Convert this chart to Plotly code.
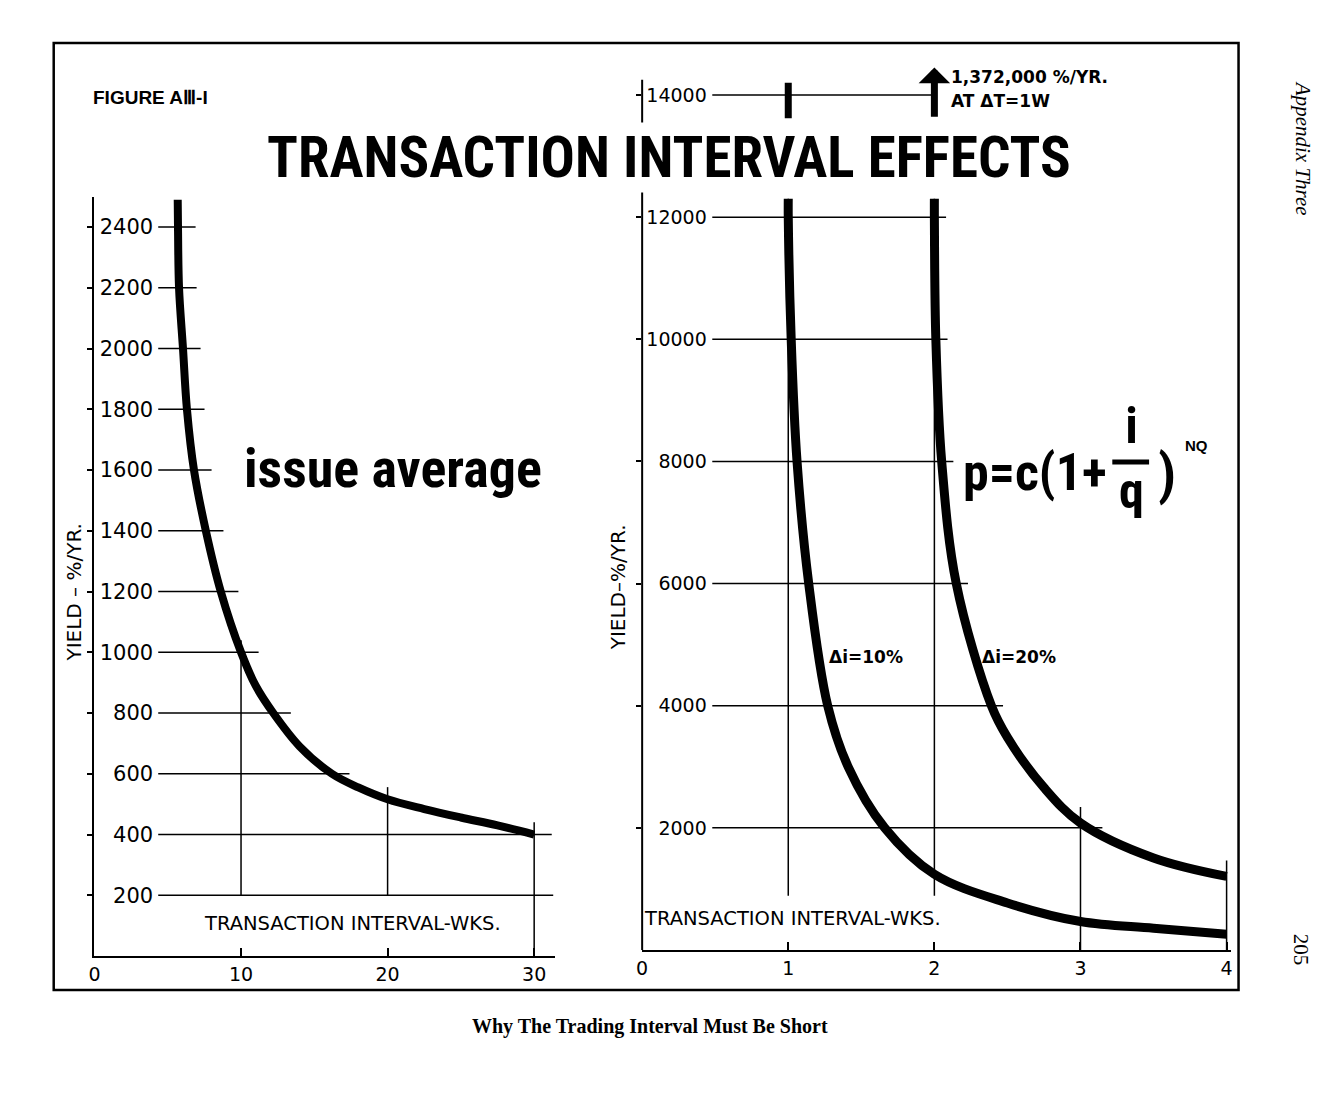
import numpy as np
import plotly.graph_objects as go

W, H = 1330, 1120

# ---------------- data ----------------
left_weeks = [5.68, 5.70, 5.77, 6.04, 6.31, 6.79, 7.60, 8.62, 10.0, 11.0, 12.2, 14.0, 16.2, 18.0, 20.0, 22.5, 25.0, 27.5, 30.0]
left_yield = [2490, 2400, 2200, 2000, 1800, 1600, 1400, 1200, 1000, 890, 800, 690, 600, 555, 516, 484, 456, 430, 400]

r10_weeks = [1.0, 1.0, 1.02, 1.06, 1.14, 1.27, 1.41, 1.66, 2.0, 2.5, 3.0, 3.5, 4.0]
r10_yield = [12300, 12000, 10000, 8000, 6000, 4000, 3000, 2000, 1240, 770, 466, 356, 258]

r20_weeks = [2.0, 2.0, 2.01, 2.05, 2.15, 2.39, 2.5, 2.75, 3.0, 3.5, 4.0]
r20_yield = [12300, 12000, 10000, 8000, 6000, 4000, 3480, 2660, 2080, 1507, 1205]

left_xticks = [0, 10, 20, 30]
left_yticks = [200, 400, 600, 800, 1000, 1200, 1400, 1600, 1800, 2000, 2200, 2400]
right_xticks = [0, 1, 2, 3, 4]
right_yticks = [2000, 4000, 6000, 8000, 10000, 12000, 14000]

labels = ["Δi=10%", "Δi=20%"]
peak_note = ["1,372,000 %/YR.", "AT ΔT=1W"]

# ---------------- helpers ----------------
def px(p):
    return p / W

def py(p):
    return 1 - p / H

NARROW = "Liberation Sans Narrow, Roboto Condensed, DejaVu Sans Condensed, Liberation Sans, sans-serif"
GEO = "DejaVu Sans, Verdana, sans-serif"
SERIF = "Liberation Serif, Times New Roman, serif"

fig = go.Figure()

curve_style = dict(color="black", shape="spline", smoothing=1.0)
fig.add_trace(go.Scatter(x=left_weeks, y=left_yield, mode="lines", xaxis="x", yaxis="y",
                         line=dict(width=8, **curve_style), hoverinfo="skip", cliponaxis=False))
fig.add_trace(go.Scatter(x=r10_weeks, y=r10_yield, mode="lines", xaxis="x2", yaxis="y2",
                         line=dict(width=9, **curve_style), hoverinfo="skip", cliponaxis=False))
fig.add_trace(go.Scatter(x=r20_weeks, y=r20_yield, mode="lines", xaxis="x2", yaxis="y2",
                         line=dict(width=9, **curve_style), hoverinfo="skip", cliponaxis=False))
# empty traces so the label-only overlay axes are drawn
fig.add_trace(go.Scatter(x=[None], y=[None], xaxis="x", yaxis="y3", hoverinfo="skip", showlegend=False))
fig.add_trace(go.Scatter(x=[None], y=[None], xaxis="x2", yaxis="y4", hoverinfo="skip", showlegend=False))

shapes = []
grid = dict(color="black", width=1.5)

# left grid: horizontal segments ending just past the curve
for yv in left_yticks:
    if yv < min(left_yield):
        x1 = 31.3
    else:
        x1 = min(float(np.interp(yv, left_yield[::-1], left_weeks[::-1])) + 1.2, 31.3)
    shapes.append(dict(type="line", xref="x", yref="y", x0=4.35, x1=x1, y0=yv, y1=yv,
                       line=grid, layer="below"))
for xv in left_xticks[1:]:
    top = float(np.interp(xv, left_weeks, left_yield)) + 40
    bottom = -15 if xv == left_xticks[-1] else left_yticks[0]
    shapes.append(dict(type="line", xref="x", yref="y", x0=xv, x1=xv, y0=bottom, y1=top,
                       line=grid, layer="below"))

# right grid
for yv in right_yticks:
    if yv > max(r20_yield):
        x1 = 2.0
    else:
        x1 = float(np.interp(yv, r20_yield[::-1], r20_weeks[::-1])) + 0.08
    shapes.append(dict(type="line", xref="x2", yref="y2", x0=0.48, x1=x1, y0=yv, y1=yv,
                       line=grid, layer="below"))
for xv in right_xticks[1:]:
    if xv in (1, 2):
        y0, y1 = 890, max(r10_yield)
    else:
        y0 = 0
        y1 = float(np.interp(xv, r20_weeks, r20_yield)) + 260
    shapes.append(dict(type="line", xref="x2", yref="y2", x0=xv, x1=xv, y0=y0, y1=y1,
                       line=grid, layer="below"))

# right y axis line (drawn by hand so it stops at the top tick)
shapes.append(dict(type="line", xref="x2 domain", yref="y2", x0=0, x1=0, y0=0, y1=14250,
                   line=dict(color="black", width=2)))
# thick marker at 1 week above the break
shapes.append(dict(type="line", xref="x2", yref="y2", x0=1, x1=1, y0=13620, y1=14200,
                   line=dict(color="black", width=7)))

# fraction bar
shapes.append(dict(type="line", xref="paper", yref="paper", x0=px(1113), x1=px(1150),
                   y0=py(462), y1=py(462), line=dict(color="black", width=5)))

# outer frame
shapes.append(dict(type="rect", xref="paper", yref="paper", x0=px(48), x1=px(1240),
                   y0=py(990), y1=py(43), line=dict(color="black", width=2.5)))

ann = []
def A(text, x, y, size, family=GEO, weight="normal", xanchor="center", yanchor="middle",
      xref="paper", yref="paper", angle=0, bg=None, style="normal"):
    d = dict(text=text, x=x, y=y, xref=xref, yref=yref, showarrow=False,
             xanchor=xanchor, yanchor=yanchor, textangle=angle,
             font=dict(family=family, size=size, color="black", weight=weight, style=style))
    if bg:
        d["bgcolor"] = bg
    ann.append(d)

A("FIGURE AⅢ-I", px(86), py(97), 19, family="Liberation Sans, Arial, sans-serif", weight="bold", xanchor="left")
A("TRANSACTION INTERVAL EFFECTS", px(667), py(158), 57, family=NARROW, weight="bold", bg="white")
A("issue average", px(389), py(468), 54, family=NARROW, weight="bold")

# formula
A("p=c(1+", px(961), py(473), 52, family=NARROW, weight="bold", xanchor="left")
A("i<br>q", px(1132), py(458), 50, family=NARROW, weight="bold")
A(")", px(1168), py(474), 56, family=NARROW, weight="bold")
A("NQ", px(1198), py(446), 15, family="Liberation Sans, Arial, sans-serif", weight="bold")

# series labels
A(labels[0], 1.53, 4800, 17, family=GEO, weight="bold", xref="x2", yref="y2")
A(labels[1], 2.58, 4800, 17, family=GEO, weight="bold", xref="x2", yref="y2")

# off-scale note
A(peak_note[0], 2.10, 14290, 17, family=GEO, weight="bold", xanchor="left", xref="x2", yref="y2")
A(peak_note[1], 2.10, 13900, 17, family=GEO, weight="bold", xanchor="left", xref="x2", yref="y2")

# axis titles
A("TRANSACTION INTERVAL-WKS.", 17.6, 108, 19.5, xref="x", yref="y")
A("TRANSACTION INTERVAL-WKS.", 1.03, 524, 19.5, xref="x2", yref="y2")
A("YIELD – %/YR.", px(68), py(592), 20, angle=-90)
A("YIELD–%/YR.", px(616), py(587), 20, angle=-90)

# page furniture
A("Why The Trading Interval Must Be Short", px(648), py(1026), 20, family=SERIF, weight="bold")
A("Appendix Three", px(1305), py(148), 21, family=SERIF, style="italic", angle=90)
A("205", px(1303), py(950), 21, family=SERIF, angle=90)

# arrow for the off-scale value
ann.append(dict(x=2, y=14450, xref="x2", yref="y2", ax=2, ay=13620, axref="x2", ayref="y2",
                text="", showarrow=True, arrowhead=1, arrowwidth=7, arrowsize=0.75,
                arrowcolor="black", standoff=0))

ltickfont = dict(family=GEO, size=21, color="black")
rtickfont = dict(family=GEO, size=19, color="black")
xtickfont = dict(family=GEO, size=19, color="black")

fig.update_layout(
    width=W, height=H, margin=dict(l=0, r=0, t=0, b=0),
    paper_bgcolor="white", plot_bgcolor="white", showlegend=False,
    xaxis=dict(domain=[px(89), px(552)], range=[0, 31.4], anchor="y",
               showline=True, linecolor="black", linewidth=2, ticks="inside", ticklen=8,
               tickwidth=1.5, tickcolor="black", tickvals=left_xticks, tickfont=xtickfont,
               showgrid=False, zeroline=False),
    yaxis=dict(domain=[py(956), py(196.75)], range=[0, 2500], anchor="x",
               showline=True, linecolor="black", linewidth=2, ticks="outside", ticklen=5,
               tickwidth=1.5, tickcolor="black", tickvals=left_yticks, showticklabels=False,
               showgrid=False, zeroline=False),
    yaxis3=dict(overlaying="y", range=[0, 2500], anchor="free", position=px(148), side="left",
                showline=False, ticks="", tickvals=left_yticks,
                ticktext=[str(v) for v in left_yticks], tickfont=ltickfont,
                showgrid=False, zeroline=False),
    xaxis2=dict(domain=[px(640), px(1232.4)], range=[0, 4.03], anchor="y2",
                showline=True, linecolor="black", linewidth=2, ticks="inside", ticklen=8,
                tickwidth=1.5, tickcolor="black", tickvals=right_xticks, tickfont=xtickfont,
                showgrid=False, zeroline=False),
    yaxis2=dict(domain=[py(950), py(55.3)], range=[0, 14650], anchor="x2",
                showline=False, ticks="outside", ticklen=5, tickwidth=1.5, tickcolor="black",
                tickvals=right_yticks, showticklabels=False, showgrid=False, zeroline=False),
    yaxis4=dict(overlaying="y2", range=[0, 14650], anchor="free", position=px(705), side="left",
                showline=False, ticks="", tickvals=right_yticks,
                ticktext=[str(v) for v in right_yticks], tickfont=rtickfont,
                showgrid=False, zeroline=False),
    shapes=shapes, annotations=ann,
)

fig.write_html("out.html")
